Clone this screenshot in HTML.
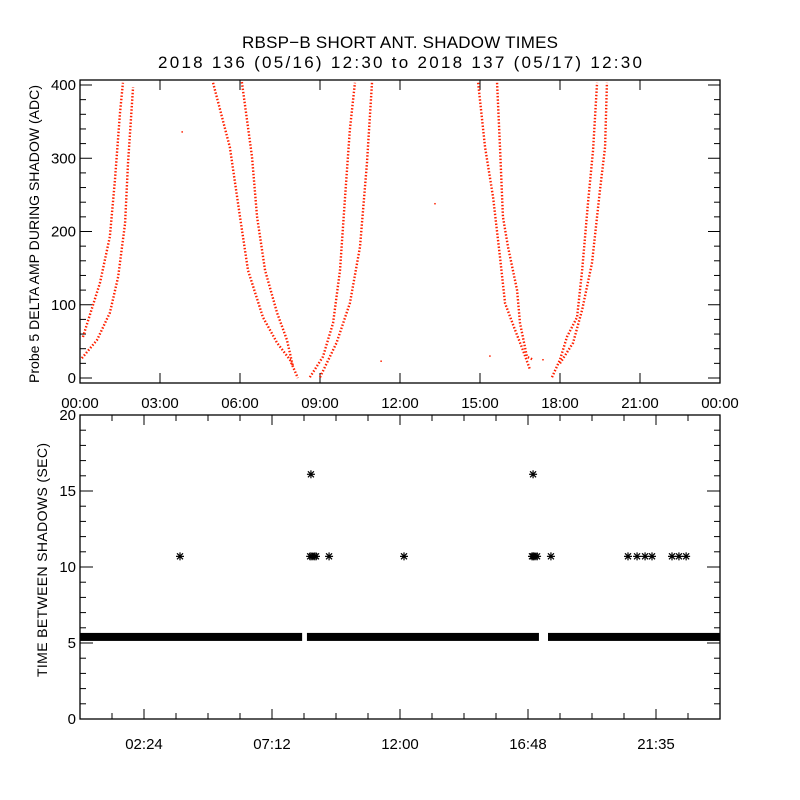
<!DOCTYPE html>
<html><head><meta charset="utf-8"><style>
body{margin:0;background:#fff}
svg{display:block;font-family:"Liberation Sans",sans-serif}
</style></head><body>
<svg id="c" width="800" height="800" xmlns="http://www.w3.org/2000/svg">
<rect width="800" height="800" fill="#fff"/>
<text x="400" y="48" font-size="17" text-anchor="middle" textLength="316" lengthAdjust="spacing">RBSP−B SHORT ANT. SHADOW TIMES</text>
<text x="400" y="68" font-size="17" text-anchor="middle" textLength="484" lengthAdjust="spacing">2018 136 (05/16) 12:30 to 2018 137 (05/17) 12:30</text>
<g id="top"></g>
<g id="bot"></g>
</svg>
<script>
// ---- top panel data (hours, ADC) ----
const branchA_h=[0.11,0.75,1.12,1.31,1.5,1.61];
const branchA_v=[56,130,193,270,362,403];
const branchB_h=[0.07,0.64,1.12,1.43,1.69,1.8,1.99];
const branchB_v=[27,52,89,138,211,293,397];
const branchC_h=[4.99,5.62,6.0,6.3,6.86,7.39,7.87,8.17];
const branchC_v=[403,315,220,147,83,48,25,0];
const branchD_h=[6.07,6.45,6.64,6.94,7.39,7.76,7.99];
const branchD_v=[404,302,220,147,89,52,15];
const branchE_h=[8.62,9.11,9.49,9.75,9.94,10.12,10.31];
const branchE_v=[1,29,75,147,247,339,403];
const branchF_h=[9.0,9.62,10.12,10.5,10.76,10.95];
const branchF_v=[1,48,102,179,293,403];
const branchG_h=[14.93,15.19,15.49,15.75,15.94,16.31,16.61,16.88];
const branchG_v=[403,315,247,165,102,66,38,11];
const branchH_h=[15.64,15.75,15.86,16.05,16.39,16.5,16.76,16.99];
const branchH_v=[403,315,220,179,120,75,29,25];
const branchI_h=[17.7,18.0,18.26,18.64,18.83,19.05,19.24,19.39];
const branchI_v=[1,25,56,83,147,239,311,403];
const branchJ_h=[18.0,18.49,18.83,19.2,19.5,19.69,19.76];
const branchJ_v=[20,48,93,157,257,315,403];
const stray_h=[3.83,11.29,13.31,15.37,17.36];
const stray_v=[336,23,238,30,25];
const topXTicks=["00:00","03:00","06:00","09:00","12:00","15:00","18:00","21:00","00:00"];
const topYTicks=[0,100,200,300,400];
// ---- bottom panel data ----
const bandStart=[0,8.51,17.55];
const bandEnd=[8.33,17.21,24];
const bandValue=5.4;
const star10_h=[3.75,8.63,8.7,8.78,8.85,9.34,12.15,16.95,17.0,17.06,17.14,17.66,20.55,20.89,21.19,21.45,22.2,22.46,22.73];
const star10_v=[10.7,10.7,10.7,10.7,10.7,10.7,10.7,10.7,10.7,10.7,10.7,10.7,10.7,10.7,10.7,10.7,10.7,10.7,10.7];
const star16_h=[8.66,16.99];
const star16_v=[16.1,16.1];
const botXTicks=["02:24","07:12","12:00","16:48","21:35"];
const botXTickHours=[2.4,7.2,12.0,16.8,21.6];
const botYTicks=[0,5,10,15,20];

const NS="http://www.w3.org/2000/svg";
function mk(p,tag,a){const e=document.createElementNS(NS,tag);for(const k in a)e.setAttribute(k,a[k]);p.appendChild(e);return e;}
const L=80,R=720;
const xs=h=>L+h*(R-L)/24;
// top
const T=document.getElementById('top');
const tTop=80,tBot=383;
const ty=v=>378-v*0.7325;
let fr=mk(T,'rect',{x:L,y:tTop,width:R-L,height:tBot-tTop,fill:'none',stroke:'#000','stroke-width':1.3});


for(let i=0;i<=8;i++){const x=xs(i*3);
 mk(T,'line',{x1:x,y1:tBot,x2:x,y2:tBot-10,stroke:'#000'});
 mk(T,'line',{x1:x,y1:tTop,x2:x,y2:tTop+10,stroke:'#000'});
 const t=mk(T,'text',{x:x,y:408,'font-size':15,'text-anchor':'middle'});t.textContent=topXTicks[i];
 
 }
for(let v=0;v<=400;v+=20){const y=ty(v);if(y<tTop)continue;const len=v%100==0?12:6;
 mk(T,'line',{x1:L,y1:y,x2:L+len,y2:y,stroke:'#000'});
 mk(T,'line',{x1:R,y1:y,x2:R-len,y2:y,stroke:'#000'});}
topYTicks.forEach(v=>{const t=mk(T,'text',{x:76,y:ty(v)+5,'font-size':15,'text-anchor':'end'});t.textContent=v;
 
 });
let yl=mk(T,'text',{transform:'translate(39,234) rotate(-90)','font-size':14,'text-anchor':'middle',textLength:298,lengthAdjust:'spacing'});
yl.textContent='Probe 5 DELTA AMP DURING SHADOW (ADC)';


const branches=[[branchA_h,branchA_v],[branchB_h,branchB_v],[branchC_h,branchC_v],[branchD_h,branchD_v],[branchE_h,branchE_v],[branchF_h,branchF_v],[branchG_h,branchG_v],[branchH_h,branchH_v],[branchI_h,branchI_v],[branchJ_h,branchJ_v]];
const cp=mk(T,'clipPath',{id:'tc'});mk(cp,'rect',{x:L,y:tTop,width:R-L,height:tBot-tTop});
branches.forEach((b,i)=>{const pts=b[0].map((h,j)=>xs(h)+','+ty(b[1][j])).join(' ');
 const pl=mk(T,'polyline',{points:pts,fill:'none',stroke:'#ff2000','stroke-width':2.4,'stroke-dasharray':'1.5 1.8','clip-path':'url(#tc)'});
 
 });
stray_h.forEach((h,i)=>{const r=mk(T,'rect',{x:xs(h)-0.7,y:ty(stray_v[i])-0.7,width:1.5,height:1.5,fill:'#ff2000'});
 
 });
// bottom
const B=document.getElementById('bot');
const bTop=415,bBot=719;
const by=v=>bBot-v*(bBot-bTop)/20;
fr=mk(B,'rect',{x:L,y:bTop,width:R-L,height:bBot-bTop,fill:'none',stroke:'#000','stroke-width':1.3});


for(let i=1;i<20;i++){const x=xs(i*1.2);const len=(i%4==2)?10:6;
 mk(B,'line',{x1:x,y1:bBot,x2:x,y2:bBot-len,stroke:'#000'});
 mk(B,'line',{x1:x,y1:bTop,x2:x,y2:bTop+len,stroke:'#000'});}
botXTicks.forEach((s,i)=>{const t=mk(B,'text',{x:xs(botXTickHours[i]),y:749,'font-size':15,'text-anchor':'middle'});t.textContent=s;
 
 });
for(let v=0;v<=20;v++){const y=by(v);const len=v%5==0?13:6;
 mk(B,'line',{x1:L,y1:y,x2:L+len,y2:y,stroke:'#000'});
 mk(B,'line',{x1:R,y1:y,x2:R-len,y2:y,stroke:'#000'});}
botYTicks.forEach(v=>{const t=mk(B,'text',{x:76,y:by(v)+5,'font-size':15,'text-anchor':'end'});t.textContent=v;
 
 });
yl=mk(B,'text',{transform:'translate(47,560) rotate(-90)','font-size':14,'text-anchor':'middle',textLength:234,lengthAdjust:'spacing'});
yl.textContent='TIME BETWEEN SHADOWS (SEC)';


bandStart.forEach((s,i)=>{const r=mk(B,'rect',{x:xs(s),y:by(bandValue)-4,width:xs(bandEnd[i])-xs(s),height:8,fill:'#000'});
 
 });
function star(h,v){const x=xs(h),y=by(v),s=4;const g=mk(B,'g',{stroke:'#000','stroke-width':1.2});
 
 
 mk(g,'line',{x1:x-s,y1:y,x2:x+s,y2:y});mk(g,'line',{x1:x,y1:y-s,x2:x,y2:y+s});
 mk(g,'line',{x1:x-3,y1:y-3,x2:x+3,y2:y+3});mk(g,'line',{x1:x-3,y1:y+3,x2:x+3,y2:y-3});}
star10_h.forEach((h,i)=>star(h,star10_v[i]));
star16_h.forEach((h,i)=>star(h,star16_v[i]));
</script>
</body></html>
